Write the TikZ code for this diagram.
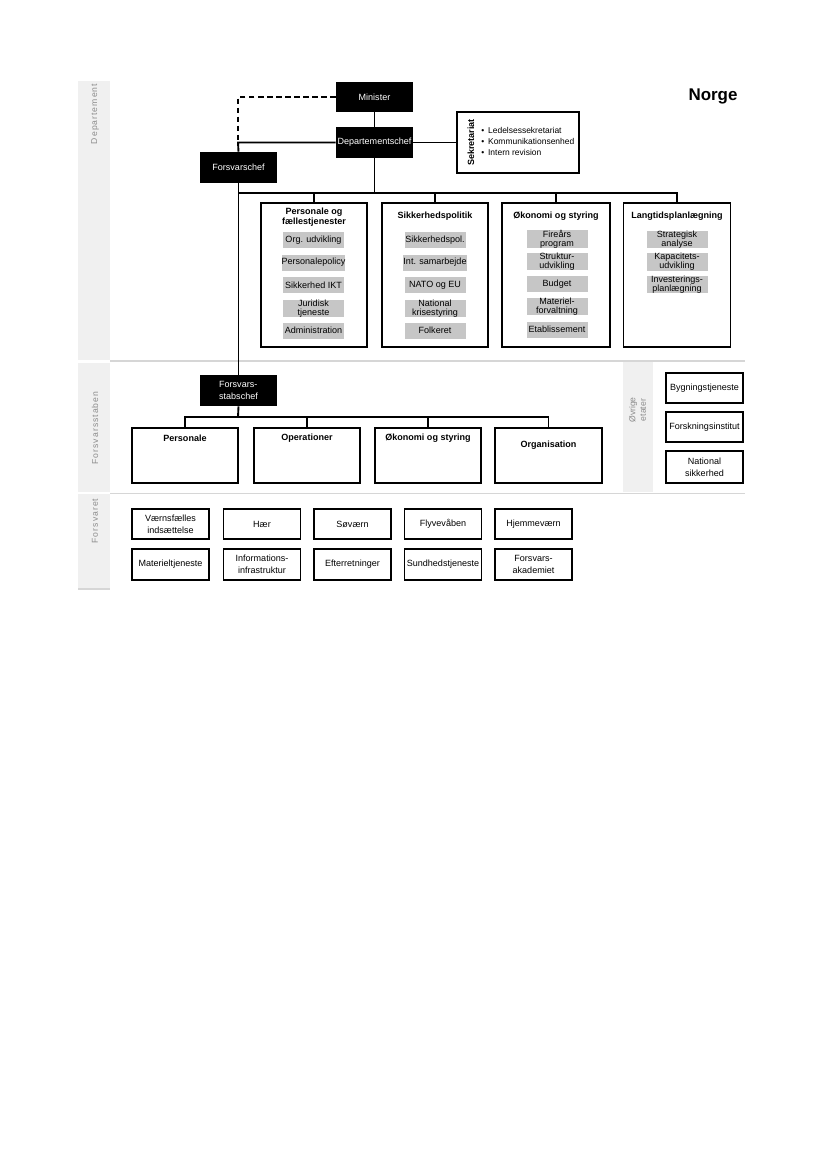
\documentclass[tikz,border=0pt]{standalone}
\usepackage{fontspec}
\setmainfont{Liberation Sans}
\newfontfamily\spacedfont[LetterSpace=12]{Liberation Sans}
\definecolor{stripgray}{HTML}{F0F0F0}
\definecolor{sepgray}{HTML}{D6D6D6}
\definecolor{labelgray}{HTML}{8C8C8C}
\definecolor{subgray}{HTML}{C6C6C6}
\begin{document}
\begin{tikzpicture}[x=0.72pt,y=-0.72pt,
  every node/.style={font={\fontsize{6.5}{8.5}\selectfont}, inner sep=0pt, align=center},
  sz/.style 2 args={minimum width=#1*0.72pt, minimum height=#2*0.72pt},
  blackbox/.style={fill=black,text=white,sz={77}{31}},
  whitebox/.style={draw=black,line width=1.35pt,fill=white},
  subbox/.style={fill=subgray,sz={61}{16},font={\fontsize{6.5}{6.3}\selectfont}},
  ttl/.style={font={\fontsize{6.5}{7.3}\selectfont\bfseries}},
  conn/.style={line width=1.35pt},
  striplabel/.style={rotate=90,text=labelgray,font={\fontsize{6.2}{7}\selectfont\spacedfont}},
]
\useasboundingbox (0,0) rectangle (827,1169);

% side strips
\fill[stripgray] (78,81) rectangle (110,360);
\fill[stripgray] (78,363) rectangle (110,492);
\fill[stripgray] (78,494) rectangle (110,589);
\fill[stripgray] (623,362) rectangle (653,492);
\draw[sepgray,line width=1.4pt] (110,361) -- (745,361);
\draw[sepgray,line width=1.4pt] (110,493.5) -- (745,493.5);
\draw[sepgray,line width=1pt] (78,589) -- (110,589);

\node[striplabel] (lDep) at (95,114) {Departement};
\node[striplabel] (lFS) at (95,428) {Forsvarsstaben};
\node[striplabel] (lFo) at (95,521) {Forsvaret};
\node[striplabel,font={\fontsize{6.2}{7.5}\selectfont}] (lOv) at (637.5,410) {Øvrige\\etater};

\node[font={\fontsize{12.2}{14}\selectfont\bfseries}] (norge) at (713,96) {Norge};

% top level
\node[blackbox,sz={77}{30}] (min) at (374.5,97) {Minister};
\node[blackbox] (dc) at (374.5,142.5) {Departementschef};
\node[blackbox] (fc) at (238.5,167.5) {Forsvarschef};
\node[whitebox,sz={122}{61}] (sek) at (518,142.5) {};
\node[rotate=90,ttl] (sekt) at (471,142.5) {Sekretariat};
\node[anchor=west,align=left,font={\fontsize{6.1}{7.6}\selectfont}] (sekl) at (481,141.5)
  {\textbullet\hspace{2.8pt}Ledelsessekretariat\\\textbullet\hspace{2.8pt}Kommunikationsenhed\\\textbullet\hspace{2.8pt}Intern revision};

\coordinate (J) at (238,142.5);
\coordinate (busL) at (238,193);
\draw[conn,dashed,dash pattern=on 4pt off 2.5pt] (min.west) -| (J);
\draw[conn] (min.south) -- (dc.north);
\draw[conn] (dc.west) -- (J) -- (fc.north);
\draw[conn] (dc.east) -- (sek.west);

% department boxes
\node[whitebox,sz={106}{144}] (b1) at (314,275) {};
\node[whitebox,sz={106}{144}] (b2) at (435,275) {};
\node[whitebox,sz={108}{144}] (b3) at (556,275) {};
\node[whitebox,sz={107}{144}] (b4) at (677,275) {};
\draw[conn] (dc.south) -- (dc.south |- busL);
\draw[conn] (busL) -| (b4.north);
\draw[conn] (b1.north) -- (b1.north |- busL);
\draw[conn] (b2.north) -- (b2.north |- busL);
\draw[conn] (b3.north) -- (b3.north |- busL);

\node[ttl] (b1t) at (314,217) {Personale og\\fællestjenester};
\node[ttl] (b2t) at (435,216) {Sikkerhedspolitik};
\node[ttl] (b3t) at (556,216) {Økonomi og styring};
\node[ttl] (b4t) at (677,216) {Langtidsplanlægning};

\node[subbox] (s11) at (313.5,240) {Org. udvikling};
\node[subbox] (s12) at (313.5,262.5) {Personalepolicy};
\node[subbox] (s13) at (313.5,285) {Sikkerhed IKT};
\node[subbox] (s14) at (313.5,308.5) {Juridisk\\tjeneste};
\node[subbox] (s15) at (313.5,330.5) {Administration};

\node[subbox] (s21) at (435,240) {Sikkerhedspol.};
\node[subbox] (s22) at (435,262.5) {Int. samarbejde};
\node[subbox] (s23) at (435,285) {NATO og EU};
\node[subbox] (s24) at (435,308.5) {National\\krisestyring};
\node[subbox] (s25) at (435,330.5) {Folkeret};

\node[subbox] (s31) at (557,239) {Fireårs\\program};
\node[subbox] (s32) at (557,261.5) {Struktur-\\udvikling};
\node[subbox] (s33) at (557,284) {Budget};
\node[subbox] (s34) at (557,306.5) {Materiel-\\forvaltning};
\node[subbox] (s35) at (557,329.5) {Etablissement};

\node[subbox] (s41) at (677,239.5) {Strategisk\\analyse};
\node[subbox] (s42) at (677,262) {Kapacitets-\\udvikling};
\node[subbox] (s43) at (677,284.5) {Investerings-\\planlægning};

% Forsvarsstaben
\node[blackbox,align=left] (fsc) at (238.5,390.5) {Forsvars-\\stabschef};
\draw[conn] (fc.south) -- (fsc.north);
\coordinate (fsbus) at (238,417);
\node[whitebox,sz={106}{55}] (fp) at (185,455.5) {};
\node[whitebox,sz={106}{55}] (fo) at (307,455.5) {};
\node[whitebox,sz={106}{55}] (fe) at (428,455.5) {};
\node[whitebox,sz={107}{55}] (fg) at (548.5,455.5) {};
\draw[conn] (fsc.south) -- (fsbus);
\draw[conn] (fp.north) |- (fsbus) -| (fg.north);
\draw[conn] (fo.north) -- (fo.north |- fsbus);
\draw[conn] (fe.north) -- (fe.north |- fsbus);
\node[ttl] (fpt) at (185,438.5) {Personale};
\node[ttl] (fot) at (307,438.5) {Operationer};
\node[ttl] (fet) at (428,438.5) {Økonomi og styring};
\node[ttl] (fgt) at (548.5,445) {Organisation};

% Øvrige etater
\node[whitebox,sz={77}{30}] (ov1) at (704.5,388) {Bygningstjeneste};
\node[whitebox,sz={77}{30}] (ov2) at (704.5,427) {Forskningsinstitut};
\node[whitebox,sz={77}{32}] (ov3) at (704.5,467) {National\\sikkerhed};

% Forsvaret
\node[whitebox,sz={77}{30}] (f1) at (170.5,524) {Værnsfælles\\indsættelse};
\node[whitebox,sz={77}{30}] (f2) at (262,524) {Hær};
\node[whitebox,sz={77}{30}] (f3) at (352.5,524) {Søværn};
\node[whitebox,sz={77}{30}] (f4) at (443,524) {Flyvevåben};
\node[whitebox,sz={77}{30}] (f5) at (533.5,524) {Hjemmeværn};
\node[whitebox,sz={77}{31}] (f6) at (170.5,564.5) {Materieltjeneste};
\node[whitebox,sz={77}{31}] (f7) at (262,564.5) {Informations-\\infrastruktur};
\node[whitebox,sz={77}{31}] (f8) at (352.5,564.5) {Efterretninger};
\node[whitebox,sz={77}{31}] (f9) at (443,564.5) {Sundhedstjeneste};
\node[whitebox,sz={77}{31}] (f10) at (533.5,564.5) {Forsvars-\\akademiet};
\end{tikzpicture}
\end{document}
